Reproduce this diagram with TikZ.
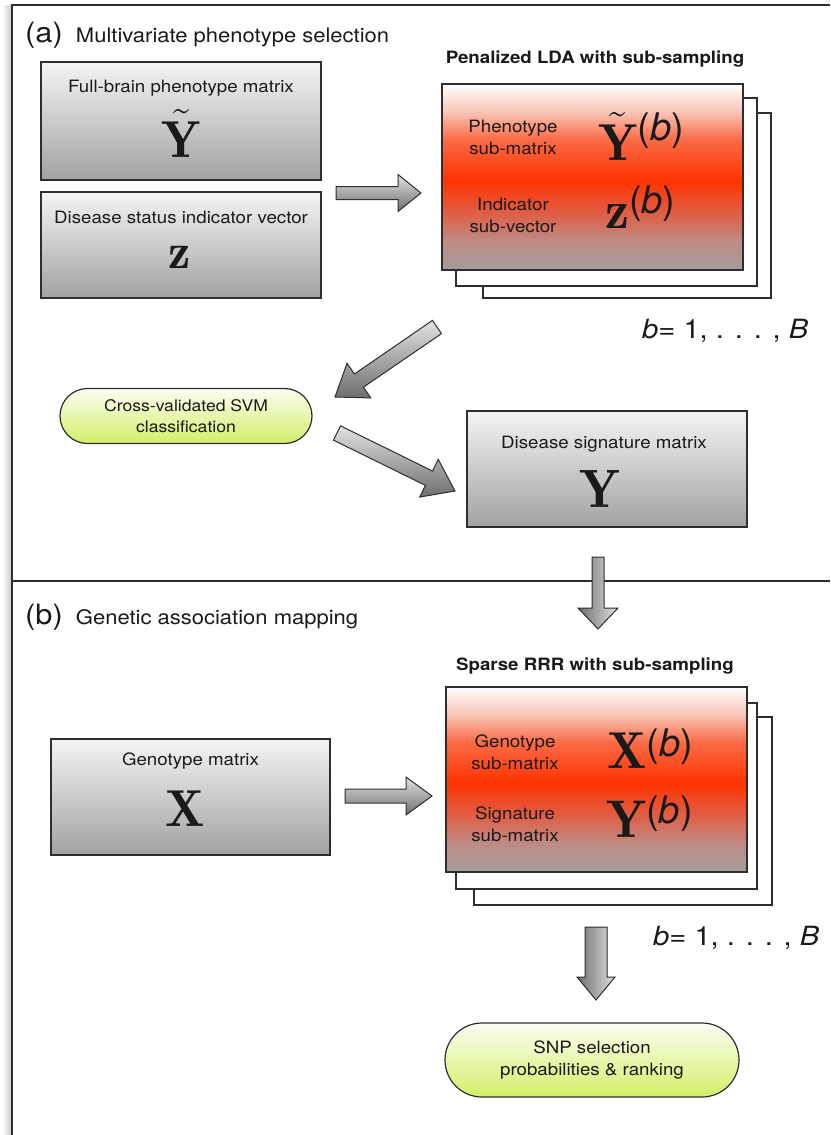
\RequirePackage{fix-cm}
\documentclass[tikz,border=0pt]{standalone}
\usepackage{fontspec}
\newfontfamily\hv[FakeStretch=1.1]{TeX Gyre Heros}
\newfontfamily\hvn{TeX Gyre Heros}
\usetikzlibrary{calc,shapes.misc}
\definecolor{ink}{HTML}{1A1A1A}
\definecolor{edge}{HTML}{2E2E2E}
\definecolor{greytop}{HTML}{F4F4F4}
\definecolor{greybot}{HTML}{A2A2A2}
\definecolor{rA}{HTML}{A39D9D}
\definecolor{rB}{HTML}{BE8C86}
\definecolor{rC}{HTML}{DE6048}
\definecolor{rD}{HTML}{FF3300}
\definecolor{rE}{HTML}{FA6A45}
\definecolor{rF}{HTML}{F9C4B6}
\definecolor{gtop}{HTML}{FBFEF2}
\definecolor{gbot}{HTML}{D3EE68}
\definecolor{arlight}{HTML}{E2E2E2}
\definecolor{ardark}{HTML}{6E6E6E}
\pgfdeclareverticalshading{redsh}{100bp}{color(0bp)=(rA); color(25bp)=(rA); color(32.5bp)=(rB); color(40bp)=(rC); color(49bp)=(rD); color(60bp)=(rE); color(67.5bp)=(rF); color(75bp)=(white); color(100bp)=(white)}
\tikzset{
 greybox/.style={draw=edge, line width=1.2pt, top color=greytop, bottom color=greybot, inner sep=0pt},
 redbox/.style={draw=edge, line width=1.4pt, shading=redsh, inner sep=0pt},
 backbox/.style={draw=edge, line width=1.2pt, fill=white, inner sep=0pt},
 pill/.style={rounded rectangle, draw=edge, line width=1.2pt, top color=gtop, bottom color=gbot, inner sep=0pt, align=center, text=ink},
 lbl/.style={font=\hv\fontsize{17}{20}\selectfont, text=ink, inner sep=0pt, anchor=base},
 twoline/.style={font=\hv\fontsize{17}{22}\selectfont, text=ink, align=center, inner sep=0pt},
 ttl/.style={font=\hv\bfseries\fontsize{17}{20}\selectfont, text=ink, inner sep=0pt, anchor=base},
 heading/.style={font=\hv\fontsize{20}{24}\selectfont, text=ink, inner sep=0pt, anchor=base west},
 bigsym/.style={text=ink, inner sep=0pt},
 rng/.style={font=\hv\fontsize{26.5}{30}\selectfont, text=ink, inner sep=0pt, anchor=base west},
 fatarrow/.style={draw=edge, line width=1pt, line join=miter},
 harrow/.style={fatarrow, top color=arlight, bottom color=ardark},
 varrow/.style={fatarrow, left color=ardark, right color=arlight},
 frameline/.style={draw=edge, line width=1.6pt},
}
\newcommand\supb[2]{\raisebox{#1}{\hvn\fontsize{#2}{#2}\selectfont(\textit{b})}}
% #1 name, #2 from, #3 to, #4 shaft half width, #5 head half width, #6 head length, #7 style
\newcommand\fatarr[7]{%
 \coordinate (#1h) at ($(#3)!#6!(#2)$);
 \path[#7] ($(#2)!#4!90:(#3)$) -- ($(#1h)!#4!-90:(#2)$) -- ($(#1h)!#5!-90:(#2)$) -- (#3)
   -- ($(#1h)!#5!90:(#2)$) -- ($(#1h)!#4!90:(#2)$) -- ($(#2)!#4!-90:(#3)$) -- cycle;}
\begin{document}
\begin{tikzpicture}[x=1pt,y=-1pt]
\useasboundingbox (0,0) rectangle (830,1135);
% frame
\shade[left color=white, right color=gray!45] (2,5) rectangle (12,1135);
\draw[frameline] (830,5) -- (12,5) -- (12,1135);
\draw[frameline] (12,581) -- (830,581);
% headings
\node[heading] (hA) at (25,42) {{\fontsize{28}{30}\selectfont(a)}\hspace{7pt} Multivariate phenotype selection};
\node[heading] (hB) at (25,624) {{\fontsize{28}{30}\selectfont(b)}\hspace{7pt} Genetic association mapping};
% ---- part (a)
\node[greybox, minimum width=280pt, minimum height=118pt] (fullbox) at (181,121) {};
\node[lbl] (fulllbl) at (181,92) {Full-brain phenotype matrix};
\node[bigsym, anchor=base] (fullsym) at (181,157) {\fontsize{52}{52}\selectfont$\tilde{\mathbf{Y}}$};
\node[greybox, minimum width=280pt, minimum height=106pt] (zbox) at (181,245) {};
\node[lbl] (zlbl) at (181,223) {Disease status indicator vector};
\node[bigsym, anchor=base] (zsym) at (180,268) {\fontsize{50}{50}\selectfont$\mathbf{z}$};
% LDA stack
\node[ttl] (ldattl) at (595,63) {Penalized LDA with sub-sampling};
\node[backbox, minimum width=288pt, minimum height=185pt] (lda3) at (627,205.5) {};
\node[backbox, minimum width=301pt, minimum height=188pt] (lda2) at (606.5,192) {};
\node[redbox, minimum width=301pt, minimum height=186pt] (lda1) at (592.5,177) {};
\node[twoline] (phlbl) at (513,137) {Phenotype\\sub-matrix};
\node[twoline] (inlbl) at (513,215) {Indicator\\sub-vector};
\node[bigsym, anchor=base west] (ybsym) at (598,160) {\fontsize{52}{52}\selectfont$\tilde{\mathbf{Y}}$\supb{20pt}{38}};
\node[bigsym, anchor=base west] (zbsym) at (605,228) {\fontsize{54}{54}\selectfont$\mathbf{z}$\supb{15pt}{38}};
\node[rng] (rngA) at (642,338) {\textit{b}= 1, . . . , \textit{B}};
% SVM
\node[pill, minimum width=252pt, minimum height=55pt, font=\hv\fontsize{16}{21}\selectfont] (svm) at (186,416) {Cross-validated SVM\\classification};
% disease signature
\node[greybox, minimum width=280pt, minimum height=116pt] (sigbox) at (607,469) {};
\node[lbl] (siglbl) at (604,448) {Disease signature matrix};
\node[bigsym, anchor=base] (sigsym) at (600,507) {\fontsize{54}{54}\selectfont$\mathbf{Y}$};
% ---- part (b)
\node[greybox, minimum width=279pt, minimum height=116pt] (genbox) at (190.5,797) {};
\node[lbl] (genlbl) at (190.5,765) {Genotype matrix};
\node[bigsym, anchor=base] (gensym) at (185,826) {\fontsize{52}{52}\selectfont$\mathbf{X}$};
\node[ttl] (rrrttl) at (595,670) {Sparse RRR with sub-sampling};
\node[backbox, minimum width=298pt, minimum height=188pt] (rrr3) at (623,811) {};
\node[backbox, minimum width=301pt, minimum height=186pt] (rrr2) at (606.5,796) {};
\node[redbox, minimum width=301pt, minimum height=185pt] (rrr1) at (596.5,779.5) {};
\node[twoline] (gelbl) at (515,752) {Genotype\\sub-matrix};
\node[twoline] (silbl) at (515,824) {Signature\\sub-matrix};
\node[bigsym, anchor=base west] (xbsym) at (607,768) {\fontsize{52}{52}\selectfont$\mathbf{X}$\supb{12pt}{38}};
\node[bigsym, anchor=base west] (ybsym2) at (606,837) {\fontsize{53}{53}\selectfont$\mathbf{Y}$\supb{14pt}{38}};
\node[rng] (rngB) at (653,945) {\textit{b}= 1, . . . , \textit{B}};
\node[pill, minimum width=294pt, minimum height=74pt, font=\hv\fontsize{17}{22}\selectfont] (snp) at (592,1060) {SNP selection\\probabilities \& ranking};
% ---- fat arrows
\coordinate (a1s) at (336,193); \coordinate (a1e) at (421,193);
\fatarr{a1}{a1s}{a1e}{6.5pt}{18.5pt}{23pt}{harrow}
\coordinate (a2s) at (437,327); \coordinate (a2e) at (335,397);
\fatarr{a2}{a2s}{a2e}{8pt}{21pt}{29pt}{harrow}
\coordinate (a3s) at (337,433); \coordinate (a3e) at (455,491);
\fatarr{a3}{a3s}{a3e}{8pt}{21pt}{29pt}{harrow}
\coordinate (a4s) at (598,557); \coordinate (a4e) at (598,629);
\fatarr{a4}{a4s}{a4e}{6pt}{20pt}{21pt}{varrow}
\coordinate (a5s) at (345,796); \coordinate (a5e) at (432,796);
\fatarr{a5}{a5s}{a5e}{7pt}{19pt}{26pt}{harrow}
\coordinate (a6s) at (596,927); \coordinate (a6e) at (596,1000);
\fatarr{a6}{a6s}{a6e}{11pt}{19pt}{23pt}{varrow}
\end{tikzpicture}
\end{document}
